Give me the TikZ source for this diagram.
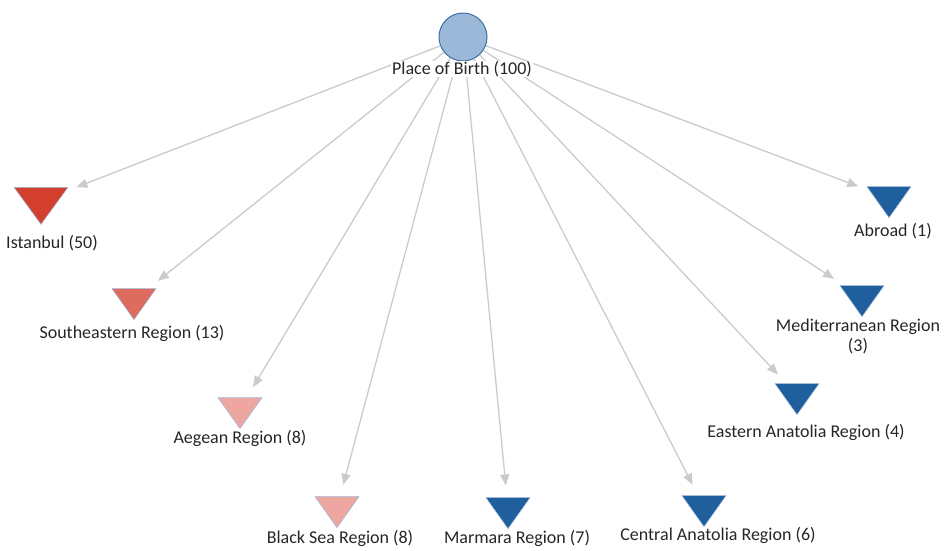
\documentclass[tikz,border=0pt]{standalone}
\usepackage{fontspec}
\setmainfont{Carlito}
\usetikzlibrary{shapes.geometric}
\usetikzlibrary{arrows.meta}
\definecolor{birthfill}{HTML}{9CB8D8}
\definecolor{birthdraw}{HTML}{3B6FA6}
\definecolor{istred}{HTML}{D2402D}
\definecolor{midred}{HTML}{DD6B5E}
\definecolor{palered}{HTML}{EDA7A0}
\definecolor{regblue}{HTML}{1F5F9E}
\definecolor{edgegray}{HTML}{CBCBCB}
\tikzstyle{region}=[isosceles triangle, isosceles triangle stretches, shape border rotate=-90, inner sep=0pt, minimum width=44pt, minimum height=31pt, draw=birthfill, line width=0.5pt]
\tikzstyle{regionlabel}=[font=\fontsize{18}{20}\selectfont, text=black!85, align=center, inner sep=1pt]
\tikzstyle{birthedge}=[draw=edgegray, line width=1.3pt, -{Triangle[length=11pt,width=9pt]}, shorten >=12pt]
\newcommand{\regionnode}[6][]{% [extra options] {name}{colour}{triangle at}{label at}{text}
	\node[region, fill=#3, #1] (#2) at (#4) {};
	\node[regionlabel] (#2-lbl) at (#5) {#6};
}

\begin{document}
\begin{tikzpicture}[x=1pt,y=-1pt]
\useasboundingbox (0,0) rectangle (945,550);
\node[circle, minimum size=48pt, fill=birthfill, draw=birthdraw, line width=1pt] (birth) at (463,37) {};
% left side, red
\regionnode[minimum width=54pt, minimum height=37pt]{istanbul}{istred}{41,201}{52,243}{Istanbul (50)}
\regionnode{southeast}{midred}{134,300}{132,333}{Southeastern Region (13)}
\regionnode{aegean}{palered}{240,409}{240,438}{Aegean Region (8)}
\regionnode{blacksea}{palered}{337,508}{340,538}{Black Sea Region (8)}
% right side, blue
\regionnode{marmara}{regblue}{508,509}{517,538}{Marmara Region (7)}
\regionnode{central}{regblue}{704,507}{718,535}{Central Anatolia Region (6)}
\regionnode{eastern}{regblue}{797,395}{806,432}{Eastern Anatolia Region (4)}
\regionnode{medit}{regblue}{862,297}{858,336}{Mediterranean Region\\(3)}
\regionnode{abroad}{regblue}{889,198}{893,231}{Abroad (1)}
\foreach \r in {istanbul,southeast,aegean,blacksea,marmara,central,eastern,medit,abroad}
	\draw[birthedge] (birth) -- (\r);
\node[regionlabel, fill=white, inner ysep=0pt] (birth-lbl) at (462,69) {Place of Birth (100)};
\end{tikzpicture}
\end{document}
